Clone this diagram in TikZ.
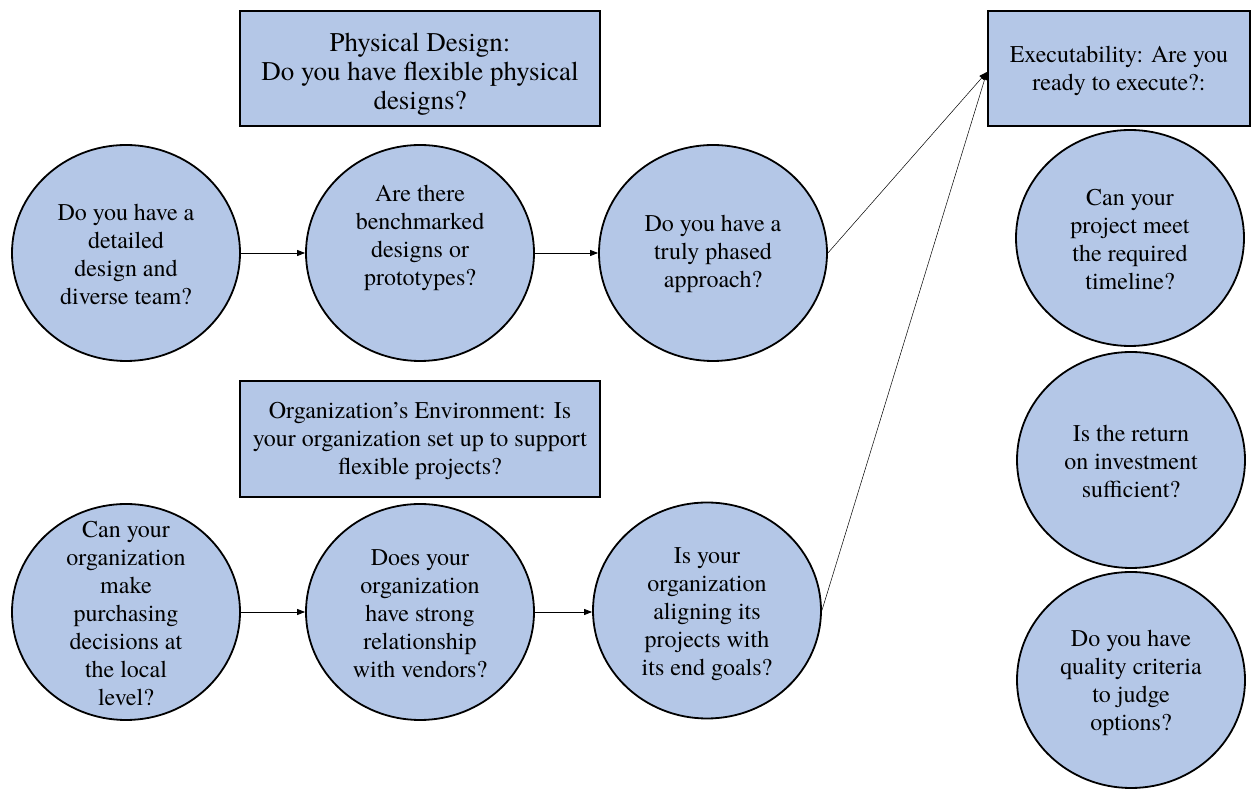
\documentclass[tikz,border=0pt]{standalone}
\usepackage{fontspec}
\setmainfont{texgyretermes-regular.otf}
\usetikzlibrary{shapes.geometric,arrows.meta}
\definecolor{fillblue}{HTML}{B4C7E7}
\tikzset{
  circ/.style={ellipse, draw=black, line width=1.8pt, fill=fillblue, minimum width=228pt, minimum height=216pt, inner sep=0pt},
  qbox/.style={rectangle, draw=black, line width=2.2pt, fill=fillblue, inner sep=0pt},
  txt/.style={align=center, font=\fontsize{24}{28}\selectfont, inner sep=0pt},
  bigtxt/.style={align=center, font=\fontsize{27}{29}\selectfont, inner sep=0pt},
  conn/.style={line width=0.8pt, -{Triangle[length=8pt,width=6pt]}},
  thin conn/.style={line width=0.5pt, -{Triangle[length=8pt,width=6pt]}}
}
\begin{document}
\begin{tikzpicture}[x=1pt,y=1pt]
\useasboundingbox (0,0) rectangle (1254,790);
% header boxes
\node[qbox, minimum width=360pt, minimum height=115pt] (b1) at (420,721.5) {};
\node[bigtxt] (tb1) at (420,716) {Physical Design:\\Do you have flexible physical\\designs?};
\node[qbox, minimum width=360pt, minimum height=116pt] (b2) at (420,351) {};
\node[txt] (tb2) at (420,349) {Organization’s Environment: Is\\your organization set up to support\\flexible projects?};
\node[qbox, minimum width=262pt, minimum height=115pt] (exec) at (1119,721.5) {};
\node[txt] (texec) at (1119,719) {Executability: Are you\\ready to execute?:};
% row 1
\node[circ] (c11) at (126,537) {};
\node[txt] (t11) at (126,536) {Do you have a\\detailed\\design and\\diverse team?};
\node[circ] (c12) at (420,537) {};
\node[txt] (t12) at (420,552) {Are there\\benchmarked\\designs or\\prototypes?};
\node[circ] (c13) at (713,537) {};
\node[txt] (t13) at (713,536) {Do you have a\\truly phased\\approach?};
% row 2
\node[circ] (c21) at (126,178) {};
\node[txt] (t21) at (126,176) {Can your\\organization\\make\\purchasing\\decisions at\\the local\\level?};
\node[circ] (c22) at (420,178) {};
\node[txt] (t22) at (420,176) {Does your\\organization\\have strong\\relationship\\with vendors?};
\node[circ] (c23) at (707,179.5) {};
\node[txt] (t23) at (707,176) {Is your\\organization\\aligning its\\projects with\\its end goals?};
% right column
\node[circ] (e1) at (1130,552) {};
\node[txt] (te1) at (1130,550) {Can your\\project meet\\the required\\timeline?};
\node[circ] (e2) at (1131,330) {};
\node[txt] (te2) at (1131,329) {Is the return\\on investment\\sufficient?};
\node[circ] (e3) at (1131,110) {};
\node[txt] (te3) at (1131,107) {Do you have\\quality criteria\\to judge\\options?};
% connectors
\coordinate (ein) at ([yshift=-3.5pt]exec.west);
\draw[conn] (c11.east) -- (c12.west);
\draw[conn] (c12.east) -- (c13.west);
\draw[conn] (c21.east) -- (c22.west);
\draw[conn] (c22.east) -- (c23.west |- c22.east);
\draw[thin conn] (c13.east) -- (ein);
\draw[thin conn] (c23.east) -- (ein);
\end{tikzpicture}
\end{document}
